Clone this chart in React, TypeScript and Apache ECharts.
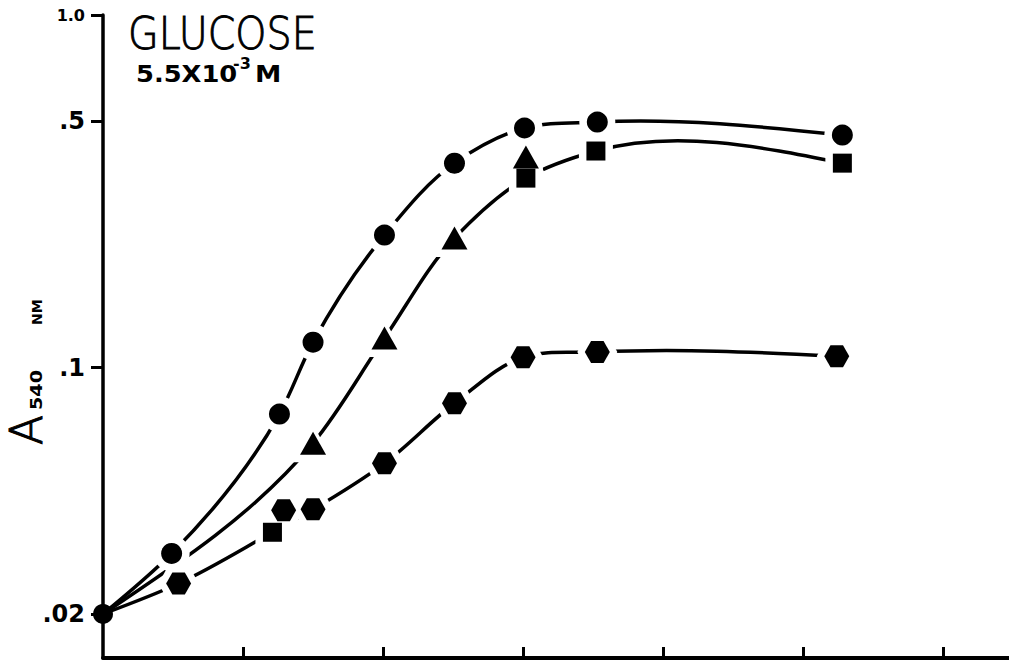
import React, { useEffect, useRef } from "react";
import * as echarts from "echarts";

// ---- data (x in axis units, y = absorbance at 540 nm) ----
const xTickValues = [1, 2, 3, 4, 5, 6];
const yTickValues = [0.02, 0.1, 0.5, 1.0];
const yTickLabels = [".02", ".1", ".5", "1.0"];

const originPt: number[] = [0, 0.02];
const circlePts: number[][] = [
  [0.49, 0.0297], [1.26, 0.0738], [1.5, 0.118], [2.01, 0.2375],
  [2.51, 0.38], [3.01, 0.478], [3.53, 0.497], [5.28, 0.4565],
];
const trianglePts: number[][] = [
  [1.5, 0.061], [2.01, 0.1212], [2.51, 0.2329], [3.02, 0.3954],
];
const squarePts: number[][] = [
  [1.21, 0.0341], [3.02, 0.3446], [3.52, 0.4113], [5.28, 0.38],
];
const hexagonPts: number[][] = [
  [0.54, 0.0244], [1.29, 0.0394], [1.5, 0.0396], [2.01, 0.0535],
  [2.51, 0.0792], [3.0, 0.107], [3.53, 0.1106], [5.24, 0.1077],
];

// curves drawn through the points
const curveA = [originPt, ...circlePts];
const curveB = [originPt, ...trianglePts.slice(0, 3), ...squarePts.slice(1)];
const curveC = [originPt, hexagonPts[0], squarePts[0], ...hexagonPts.slice(2)];

const HEX = "path://M0,50 L25,0 L75,0 L100,50 L75,100 L25,100 Z";

// smooth spline (chordal parametrisation, weighted tangents, natural ends) through pixel points
function splinePath(p: number[][]): string {
  const n = p.length;
  if (n < 2) return "";
  const h: number[] = [];
  for (let i = 0; i < n - 1; i++) {
    h.push(Math.max(1e-6, Math.hypot(p[i + 1][0] - p[i][0], p[i + 1][1] - p[i][1])));
  }
  const slope = (i: number) => [(p[i + 1][0] - p[i][0]) / h[i], (p[i + 1][1] - p[i][1]) / h[i]];
  const m: number[][] = new Array(n);
  for (let i = 1; i < n - 1; i++) {
    const s0 = slope(i - 1), s1 = slope(i);
    const w0 = h[i] / (h[i - 1] + h[i]);
    const w1 = h[i - 1] / (h[i - 1] + h[i]);
    m[i] = [s0[0] * w0 + s1[0] * w1, s0[1] * w0 + s1[1] * w1];
  }
  if (n === 2) {
    const s = slope(0);
    m[0] = s; m[1] = s;
  } else {
    const s0 = slope(0), sl = slope(n - 2);
    m[0] = [(3 * s0[0] - m[1][0]) / 2, (3 * s0[1] - m[1][1]) / 2];
    m[n - 1] = [(3 * sl[0] - m[n - 2][0]) / 2, (3 * sl[1] - m[n - 2][1]) / 2];
  }
  let d = `M${p[0][0]},${p[0][1]}`;
  for (let i = 0; i < n - 1; i++) {
    const k = h[i] / 3;
    const c1 = [p[i][0] + m[i][0] * k, p[i][1] + m[i][1] * k];
    const c2 = [p[i + 1][0] - m[i + 1][0] * k, p[i + 1][1] - m[i + 1][1] * k];
    d += ` C${c1[0]},${c1[1]} ${c2[0]},${c2[1]} ${p[i + 1][0]},${p[i + 1][1]}`;
  }
  return d;
}

export default function App() {
  const ref = useRef<HTMLDivElement>(null);
  useEffect(() => {
    if (!ref.current) return;
    const chart = echarts.init(ref.current, undefined, { renderer: "svg" });
    const curve = (pts: number[][]) => ({
      type: "custom",
      data: [pts[0]],
      z: 2,
      silent: true,
      clip: false,
      renderItem: (_params: any, api: any) => {
        const px = pts.map((q) => api.coord(q));
        return {
          type: "path",
          shape: { pathData: splinePath(px) },
          style: { fill: null, stroke: "#000", lineWidth: 3.5, lineCap: "round" },
        };
      },
    });
    const marks = (data: number[][], symbol: string, size: any, color: string, z: number) => ({
      type: "scatter",
      data,
      symbol,
      symbolSize: size,
      itemStyle: { color, opacity: 1 },
      z,
      silent: true,
    });
    const grow = (s: any, d: number) => (Array.isArray(s) ? [s[0] + d, s[1] + d] : s + d);
    const CS = 21, TS = [26, 23], SS = 19, HS = [25, 22];
    const M = 15;
    const labelFont = { fontFamily: "DejaVu Sans", fontWeight: "bold", color: "#000" };
    const txt = (text: string, x: number, y: number, size: number, weight: any, extra: any = {}) => {
      const { styleExtra, ...rest } = extra;
      return {
        type: "text",
        x,
        y,
        ...rest,
        style: {
          text,
          fontFamily: "DejaVu Sans",
          fontWeight: weight,
          fontSize: size,
          fill: "#000",
          textAlign: "left",
          textVerticalAlign: "middle",
          ...(styleExtra || {}),
        },
      };
    };
    const option: any = {
      animation: false,
      backgroundColor: "#fff",
      grid: { left: 103, right: 0, top: 15, bottom: 5, containLabel: false },
      xAxis: {
        type: "value",
        min: 0,
        max: 6.47,
        axisLine: { show: true, onZero: false, lineStyle: { color: "#000", width: 4 } },
        axisTick: {
          show: true,
          inside: true,
          length: 11,
          customValues: xTickValues,
          lineStyle: { color: "#000", width: 3 },
        },
        axisLabel: { show: false },
        splitLine: { show: false },
      },
      yAxis: {
        type: "log",
        logBase: 10,
        min: 0.015,
        max: 1,
        axisLine: { show: true, onZero: false, lineStyle: { color: "#000", width: 3.5 } },
        axisTick: {
          show: true,
          length: 12,
          customValues: yTickValues,
          lineStyle: { color: "#000", width: 3 },
        },
        axisLabel: {
          show: true,
          margin: 18,
          customValues: yTickValues,
          formatter: (v: number) => {
            let idx = 0;
            let best = Infinity;
            yTickValues.forEach((t, i) => {
              const dd = Math.abs(Math.log10(v / t));
              if (dd < best) { best = dd; idx = i; }
            });
            const t = yTickLabels[idx];
            return idx === 3 ? `{s|${t}}` : `{b|${t}}`;
          },
          rich: {
            b: { ...labelFont, fontSize: 24 },
            s: { ...labelFont, fontSize: 16 },
          },
        },
        splitLine: { show: false },
      },
      series: [
        curve(curveA),
        curve(curveB),
        curve(curveC),
        // white masks leave small gaps in the curves around each marker
        marks(circlePts, "circle", CS + M, "#fff", 3),
        marks(trianglePts, "triangle", grow(TS, M), "#fff", 3),
        marks(squarePts, "rect", SS + M, "#fff", 3),
        marks(hexagonPts, HEX, grow(HS, M), "#fff", 3),
        // markers
        marks([originPt], "circle", 20, "#000", 4),
        marks(circlePts, "circle", CS, "#000", 4),
        marks(trianglePts, "triangle", TS, "#000", 4),
        marks(squarePts, "rect", SS, "#000", 4),
        marks(hexagonPts, HEX, HS, "#000", 4),
      ],
      graphic: [
        txt("GLUCOSE", 128, 34, 44, 200, {
          scaleX: 0.9,
          styleExtra: { stroke: "#000", lineWidth: 0.9 },
        }),
        txt("5.5X10", 136, 74, 23, "bold", { scaleX: 1.12 }),
        txt("-3", 233, 63, 16, "bold"),
        txt("M", 255, 74, 23, "bold", { scaleX: 1.15 }),
        {
          type: "group",
          x: 42,
          y: 445,
          rotation: Math.PI / 2,
          children: [
            txt("A", 0, -16, 44, 200, { styleExtra: { stroke: "#000", lineWidth: 1 } }),
            txt("540", 35, -5, 15, "bold", { scaleX: 1.28 }),
            txt("NM", 120, -5, 14, "bold"),
          ],
        },
      ],
    };
    chart.setOption(option);
    return () => chart.dispose();
  }, []);
  return (
    <div
      ref={ref}
      style={{ position: "fixed", left: 0, top: 0, width: 1009, height: 663, background: "#fff" }}
    />
  );
}
